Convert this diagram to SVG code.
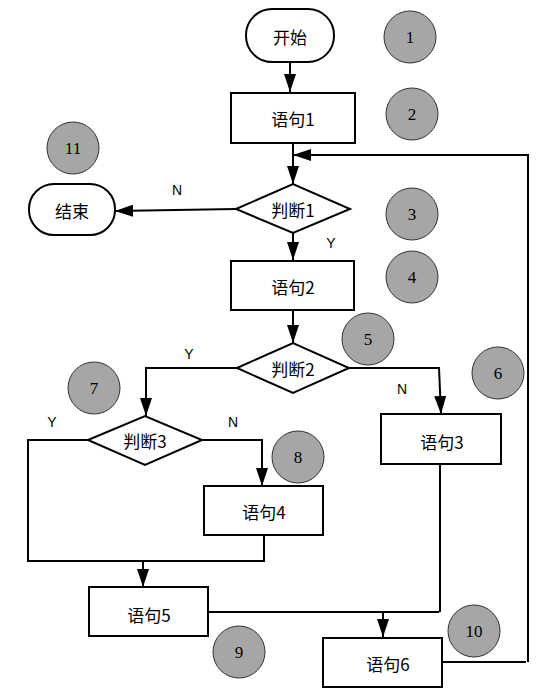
<svg xmlns="http://www.w3.org/2000/svg" width="547" height="699" viewBox="0 0 547 699">
<defs>
<marker id="arr" viewBox="0 0 18 12" refX="18" refY="6" markerWidth="18" markerHeight="12" markerUnits="userSpaceOnUse" orient="auto">
<path d="M0,0 L18,6 L0,12 Z" fill="#000"/>
</marker>
</defs>
<style>
.box{fill:#fff;stroke:#000;stroke-width:2}
.ln{fill:none;stroke:#000;stroke-width:2}
.t{font-family:"Noto Sans CJK SC","Noto Sans",sans-serif;font-size:17px;text-anchor:middle;dominant-baseline:central;fill:#000}
.yn{font-family:"Liberation Sans",Arial,sans-serif;font-size:14px;text-anchor:middle;dominant-baseline:central;fill:#000}
.c{fill:#a6a6a6;stroke:#333;stroke-width:1}
.n{font-family:"Liberation Serif","Times New Roman",serif;font-size:17px;text-anchor:middle;dominant-baseline:central;fill:#000}
</style>
<rect width="547" height="699" fill="#fff"/>
<g id="connectors">
<path class="ln" d="M290,62 L290,92" marker-end="url(#arr)"/>
<path class="ln" d="M293,143 L293,184" marker-end="url(#arr)"/>
<path class="ln" d="M529,155 L293,155" marker-end="url(#arr)"/>
<path class="ln" d="M236,209 L115,211" marker-end="url(#arr)"/>
<path class="ln" d="M293,233 L293,260" marker-end="url(#arr)"/>
<path class="ln" d="M293,310 L293,343" marker-end="url(#arr)"/>
<path class="ln" d="M237,368 L146,368 L146,416" marker-end="url(#arr)"/>
<path class="ln" d="M349,368 L439,368 L441,414" marker-end="url(#arr)"/>
<path class="ln" d="M88,440 L28,440 L28,561 L264,561 L264,535"/>
<path class="ln" d="M202,440 L262,440 L262,486" marker-end="url(#arr)"/>
<path class="ln" d="M143,561 L143,587" marker-end="url(#arr)"/>
<path class="ln" d="M208,612 L439,612"/>
<path class="ln" d="M440,464 L440,612"/>
<path class="ln" d="M383,612 L383,637" marker-end="url(#arr)"/>
<path class="ln" d="M442,662 L526,662"/>
<path class="ln" d="M528,662 L528,155"/>
<text class="yn" x="177" y="190">N</text>
<text class="yn" x="331" y="243">Y</text>
<text class="yn" x="189" y="354">Y</text>
<text class="yn" x="402" y="389">N</text>
<text class="yn" x="52" y="422">Y</text>
<text class="yn" x="233" y="422">N</text>
</g>
<g id="start"><rect class="box" x="246" y="9" width="88" height="53" rx="26" ry="26"/><text class="t" x="290" y="36">开始</text></g>
<g id="s1"><rect class="box" x="231" y="93" width="124" height="50"/><text class="t" x="293" y="118">语句1</text></g>
<g id="d1"><polygon class="box" points="236,209 293,184 350,209 293,233"/><text class="t" x="293" y="209">判断1</text></g>
<g id="end"><rect class="box" x="29" y="184" width="86" height="51" rx="25" ry="25"/><text class="t" x="72" y="210">结束</text></g>
<g id="s2"><rect class="box" x="231" y="261" width="123" height="49"/><text class="t" x="293" y="286">语句2</text></g>
<g id="d2"><polygon class="box" points="237,368 293,343 349,368 293,393"/><text class="t" x="293" y="368">判断2</text></g>
<g id="d3"><polygon class="box" points="88,440 145,416 202,440 145,465"/><text class="t" x="145" y="440">判断3</text></g>
<g id="s3"><rect class="box" x="381" y="414" width="120" height="50"/><text class="t" x="442" y="441">语句3</text></g>
<g id="s4"><rect class="box" x="204" y="486" width="119" height="49"/><text class="t" x="264" y="511">语句4</text></g>
<g id="s5"><rect class="box" x="89" y="587" width="119" height="49"/><text class="t" x="149" y="614">语句5</text></g>
<g id="s6"><rect class="box" x="323" y="638" width="119" height="49"/><text class="t" x="388" y="663">语句6</text></g>
<g id="c1"><circle class="c" cx="410" cy="37" r="26"/><text class="n" x="410" y="37">1</text></g>
<g id="c2"><circle class="c" cx="412" cy="114" r="26"/><text class="n" x="412" y="114">2</text></g>
<g id="c3"><circle class="c" cx="412" cy="214" r="26"/><text class="n" x="412" y="214">3</text></g>
<g id="c4"><circle class="c" cx="412" cy="277" r="26"/><text class="n" x="412" y="277">4</text></g>
<g id="c5"><circle class="c" cx="368" cy="339" r="26"/><text class="n" x="368" y="339">5</text></g>
<g id="c6"><circle class="c" cx="498" cy="373" r="26"/><text class="n" x="498" y="373">6</text></g>
<g id="c7"><circle class="c" cx="94" cy="388" r="26"/><text class="n" x="94" y="388">7</text></g>
<g id="c8"><circle class="c" cx="298" cy="457" r="26"/><text class="n" x="298" y="457">8</text></g>
<g id="c9"><circle class="c" cx="239" cy="652" r="26"/><text class="n" x="239" y="652">9</text></g>
<g id="c10"><circle class="c" cx="474" cy="631" r="26"/><text class="n" x="474" y="631">10</text></g>
<g id="c11"><circle class="c" cx="73" cy="148" r="26"/><text class="n" x="73" y="148">11</text></g>
</svg>
